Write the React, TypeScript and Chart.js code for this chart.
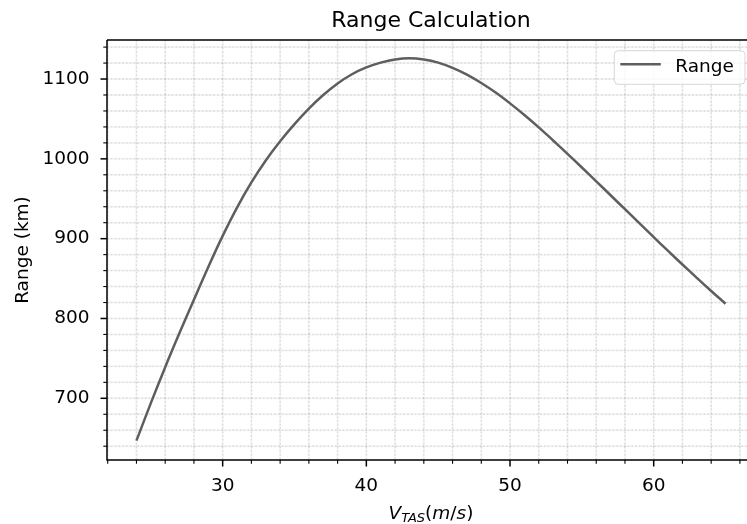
import React, { useEffect, useRef } from "react";
import { Chart, registerables } from "chart.js";

Chart.register(...registerables);

const FONT = '"DejaVu Sans", "Liberation Sans", sans-serif';

// ---- data ----
const speeds = [
  24, 25, 26, 27, 28, 29, 30, 31, 32, 33, 34, 35, 36, 37, 38, 39, 40, 41, 42, 43, 44,
  45, 46, 47, 48, 49, 50, 51, 52, 53, 54, 55, 56, 57, 58, 59, 60, 61, 62, 63, 64, 65,
];
const ranges = [
  647, 694, 739, 782, 823.5, 864.5, 903.5, 939, 970.5, 998, 1022, 1043.5, 1063, 1080,
  1094.5, 1106, 1114.5, 1120.5, 1124.5, 1126, 1124.5, 1120.5, 1114, 1105.5, 1095, 1083,
  1069.5, 1055, 1039.5, 1023, 1006.2, 989.2, 971.9, 954.4, 936.9, 919.4, 901.9, 884.6,
  867.6, 850.9, 834.5, 818.5,
];
const seriesLabel = "Range";
const chartTitle = "Range Calculation";
const yAxisTitle = "Range (km)";
const xMajorTicks = [30, 40, 50, 60];
const xMinorTicks = [22, 24, 26, 28, 30, 32, 34, 36, 38, 40, 42, 44, 46, 48, 50, 52, 54, 56, 58, 60, 62, 64, 66];
const yMajorTicks = [700, 800, 900, 1000, 1100];
const yMinorTicks = [
  640, 660, 680, 700, 720, 740, 760, 780, 800, 820, 840, 860, 880, 900, 920, 940, 960,
  980, 1000, 1020, 1040, 1060, 1080, 1100, 1120, 1140,
];
const xLimits = [21.95, 67.05];
const yLimits = [622.7, 1148.9];
const xTitleParts = [
  { text: "V", italic: true, sub: false },
  { text: "TAS", italic: true, sub: true },
  { text: "(", italic: false, sub: false },
  { text: "m", italic: true, sub: false },
  { text: "/", italic: false, sub: false },
  { text: "s", italic: true, sub: false },
  { text: ")", italic: false, sub: false },
];

const CANVAS_W = 755;
const CANVAS_H = 524;
const LINE_COLOR = "#5e5e5e";
const TICK_FONT = 18.5;

const mplPlugin = {
  id: "mplLook",
  beforeDatasetsDraw(chart: any) {
    const { ctx, chartArea: a, scales } = chart;
    const xs = scales.x;
    const ys = scales.y;
    const lines: number[][] = [];
    xMinorTicks.forEach((v) => {
      const p = xs.getPixelForValue(v);
      lines.push([p, a.top, p, a.bottom]);
    });
    yMinorTicks.forEach((v) => {
      const p = ys.getPixelForValue(v);
      lines.push([a.left, p, a.right, p]);
    });
    ctx.save();
    ctx.beginPath();
    ctx.rect(a.left, a.top, a.right - a.left, a.bottom - a.top);
    ctx.clip();
    const stroke = (color: string, w: number, dash: number[]) => {
      ctx.strokeStyle = color;
      ctx.lineWidth = w;
      ctx.setLineDash(dash);
      lines.forEach((l) => {
        ctx.beginPath();
        ctx.moveTo(l[0], l[1]);
        ctx.lineTo(l[2], l[3]);
        ctx.stroke();
      });
    };
    stroke("rgba(0,0,0,0.045)", 2, []);
    stroke("rgba(0,0,0,0.11)", 1.4, [1.6, 2.2]);
    ctx.restore();
  },
  afterDatasetsDraw(chart: any) {
    const { ctx, chartArea: a, scales } = chart;
    const xs = scales.x;
    const ys = scales.y;
    ctx.save();
    ctx.setLineDash([]);
    // spines
    ctx.strokeStyle = "#000";
    ctx.lineWidth = 1.5;
    ctx.beginPath();
    ctx.moveTo(a.left, a.top);
    ctx.lineTo(a.right, a.top);
    ctx.moveTo(a.left, a.top);
    ctx.lineTo(a.left, a.bottom);
    ctx.lineTo(a.right, a.bottom);
    ctx.moveTo(a.right, a.top);
    ctx.lineTo(a.right, a.bottom);
    ctx.stroke();
    // tick marks (outward)
    xMinorTicks.forEach((v) => {
      const major = xMajorTicks.includes(v);
      const p = xs.getPixelForValue(v);
      ctx.lineWidth = major ? 1.5 : 1.1;
      ctx.beginPath();
      ctx.moveTo(p, a.bottom);
      ctx.lineTo(p, a.bottom + (major ? 6.5 : 3.7));
      ctx.stroke();
    });
    yMinorTicks.forEach((v) => {
      const major = yMajorTicks.includes(v);
      const p = ys.getPixelForValue(v);
      ctx.lineWidth = major ? 1.5 : 1.1;
      ctx.beginPath();
      ctx.moveTo(a.left, p);
      ctx.lineTo(a.left - (major ? 6.5 : 3.7), p);
      ctx.stroke();
    });
    // legend
    const bx = a.right - 10 - 130.7;
    const by = a.top + 10.7;
    const bw = 130.7;
    const bh = 33.6;
    ctx.beginPath();
    if ((ctx as any).roundRect) (ctx as any).roundRect(bx, by, bw, bh, 4);
    else ctx.rect(bx, by, bw, bh);
    ctx.fillStyle = "rgba(255,255,255,0.8)";
    ctx.fill();
    ctx.strokeStyle = "rgba(204,204,204,0.8)";
    ctx.lineWidth = 1;
    ctx.stroke();
    ctx.strokeStyle = LINE_COLOR;
    ctx.lineWidth = 2.6;
    ctx.beginPath();
    ctx.moveTo(bx + 6, by + 13.5);
    ctx.lineTo(bx + 46.5, by + 13.5);
    ctx.stroke();
    ctx.fillStyle = "#000";
    ctx.font = `${TICK_FONT}px ${FONT}`;
    ctx.textAlign = "left";
    ctx.textBaseline = "alphabetic";
    ctx.fillText(seriesLabel, bx + 61, by + 21.5);
    // x axis title with subscript
    const mainSize = TICK_FONT;
    const subSize = 13;
    const fontFor = (p: any) =>
      `${p.italic ? "italic " : ""}${p.sub ? subSize : mainSize}px ${FONT}`;
    let total = 0;
    const widths = xTitleParts.map((p) => {
      ctx.font = fontFor(p);
      const w = ctx.measureText(p.text).width;
      total += w;
      return w;
    });
    let cx = (a.left + a.right) / 2 - total / 2;
    const baseY = 518.5;
    xTitleParts.forEach((p, i) => {
      ctx.font = fontFor(p);
      ctx.fillText(p.text, cx, p.sub ? baseY + 3 : baseY);
      cx += widths[i];
    });
    ctx.restore();
  },
};

export default function App() {
  const canvasRef = useRef<HTMLCanvasElement | null>(null);

  useEffect(() => {
    const canvas = canvasRef.current;
    if (!canvas) return;
    const chart = new Chart(canvas, {
      type: "line",
      data: {
        datasets: [
          {
            label: seriesLabel,
            data: speeds.map((v, i) => ({ x: v, y: ranges[i] })),
            borderColor: LINE_COLOR,
            borderWidth: 2.5,
            pointRadius: 0,
            fill: false,
            tension: 0.4,
          },
        ],
      },
      options: {
        responsive: false,
        maintainAspectRatio: false,
        animation: false,
        devicePixelRatio: 1,
        layout: { padding: 0 },
        plugins: {
          legend: { display: false },
          tooltip: { enabled: false },
          title: {
            display: true,
            text: chartTitle,
            fullSize: false,
            color: "#000",
            font: { family: FONT, size: 22, weight: "normal" },
            padding: { top: 8, bottom: 5.6 },
          },
        },
        scales: {
          x: {
            type: "linear",
            min: xLimits[0],
            max: xLimits[1],
            afterBuildTicks: (scale: any) => {
              scale.ticks = xMajorTicks.map((v) => ({ value: v }));
            },
            afterFit: (scale: any) => {
              scale.height = CANVAS_H - 460;
            },
            grid: { display: false, drawTicks: false },
            border: { display: false },
            ticks: {
              autoSkip: false,
              maxRotation: 0,
              padding: 15,
              color: "#000",
              font: { family: FONT, size: TICK_FONT },
              callback: (v: any) => String(v),
            },
          },
          y: {
            type: "linear",
            min: yLimits[0],
            max: yLimits[1],
            afterBuildTicks: (scale: any) => {
              scale.ticks = yMajorTicks.map((v) => ({ value: v }));
            },
            afterFit: (scale: any) => {
              scale.width = 107;
            },
            grid: { display: false, drawTicks: false },
            border: { display: false },
            title: {
              display: true,
              text: yAxisTitle,
              color: "#000",
              font: { family: FONT, size: TICK_FONT },
              padding: { top: 12, bottom: 0 },
            },
            ticks: {
              autoSkip: false,
              padding: 17.5,
              color: "#000",
              font: { family: FONT, size: TICK_FONT },
              callback: (v: any) => String(v),
            },
          },
        },
      },
      plugins: [mplPlugin],
    } as any);
    return () => chart.destroy();
  }, []);

  return (
    <div
      style={{
        position: "absolute",
        left: 0,
        top: 0,
        width: 747,
        height: 524,
        overflow: "hidden",
        background: "#fff",
      }}
    >
      <canvas
        ref={canvasRef}
        width={CANVAS_W}
        height={CANVAS_H}
        style={{ display: "block", width: CANVAS_W, height: CANVAS_H }}
      />
    </div>
  );
}
